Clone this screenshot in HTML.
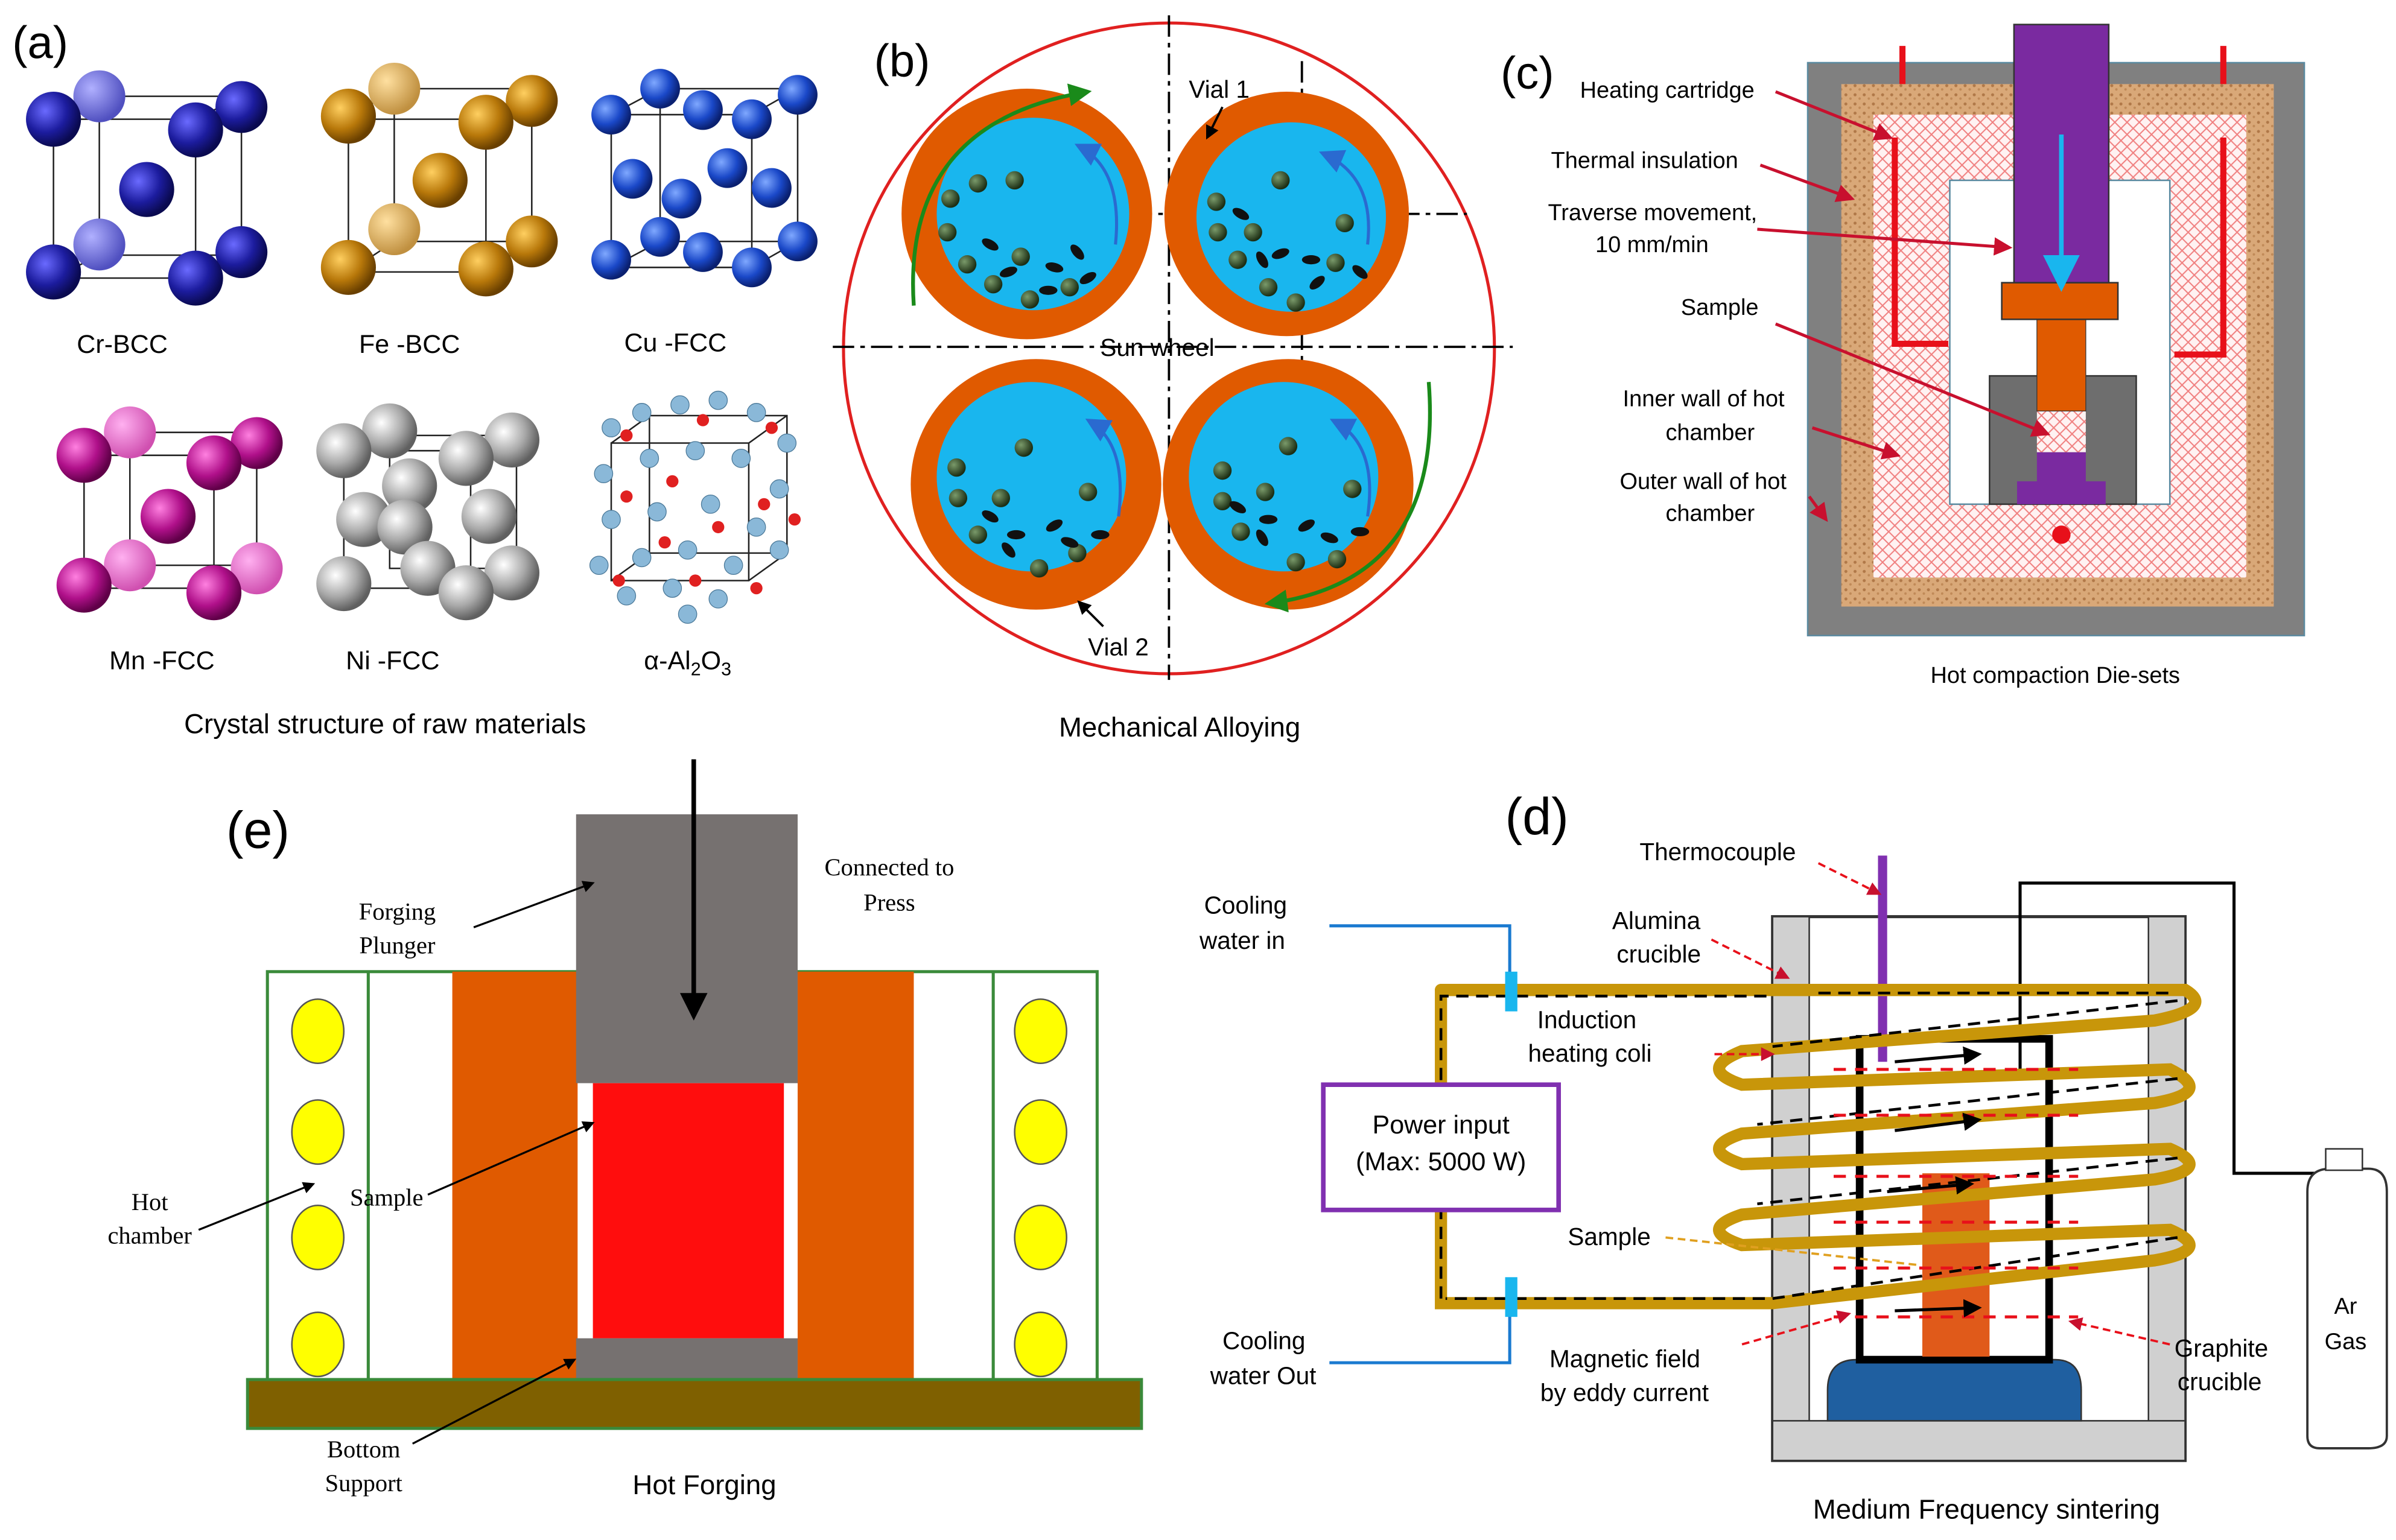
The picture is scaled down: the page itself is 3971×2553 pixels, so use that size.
<!DOCTYPE html>
<html><head><meta charset="utf-8"><style>
html,body{margin:0;padding:0;background:#fff;}
svg{display:block;}
text{font-family:"Liberation Sans",sans-serif;}
.s text{font-family:"Liberation Serif",serif;}
</style></head><body>
<svg width="3971" height="2553" viewBox="0 0 1568 1008" xmlns="http://www.w3.org/2000/svg">
<defs>
<radialGradient id="gb" cx="35%" cy="35%" r="65%"><stop offset="0" stop-color="#6a6aff"/><stop offset="0.6" stop-color="#1c1c9e"/><stop offset="1" stop-color="#0a0a50"/></radialGradient>
<radialGradient id="gbl" cx="35%" cy="35%" r="65%"><stop offset="0" stop-color="#b0b0ff"/><stop offset="1" stop-color="#5050c0"/></radialGradient>
<radialGradient id="go" cx="35%" cy="35%" r="65%"><stop offset="0" stop-color="#ffcf60"/><stop offset="0.6" stop-color="#b8780a"/><stop offset="1" stop-color="#6a4000"/></radialGradient>
<radialGradient id="gol" cx="35%" cy="35%" r="65%"><stop offset="0" stop-color="#ffe0a0"/><stop offset="1" stop-color="#c09040"/></radialGradient>
<radialGradient id="gc" cx="35%" cy="35%" r="65%"><stop offset="0" stop-color="#7fa8ff"/><stop offset="0.6" stop-color="#1a48c8"/><stop offset="1" stop-color="#0a2070"/></radialGradient>
<radialGradient id="gm" cx="35%" cy="35%" r="65%"><stop offset="0" stop-color="#ff80e0"/><stop offset="0.6" stop-color="#b0108a"/><stop offset="1" stop-color="#600048"/></radialGradient>
<radialGradient id="gml" cx="35%" cy="35%" r="65%"><stop offset="0" stop-color="#ffb0f0"/><stop offset="1" stop-color="#d050b0"/></radialGradient>
<radialGradient id="gn" cx="35%" cy="35%" r="65%"><stop offset="0" stop-color="#ffffff"/><stop offset="0.6" stop-color="#a8a8a8"/><stop offset="1" stop-color="#606060"/></radialGradient>
<radialGradient id="gg" cx="35%" cy="35%" r="65%"><stop offset="0" stop-color="#7a9a6a"/><stop offset="1" stop-color="#1c2e14"/></radialGradient>
<pattern id="hatch" width="8" height="8" patternUnits="userSpaceOnUse"><rect width="8" height="8" fill="#fff2f2"/><path d="M0 0L8 8M8 0L0 8" stroke="#f08080" stroke-width="0.8"/></pattern>
<pattern id="cork" width="6" height="6" patternUnits="userSpaceOnUse"><rect width="6" height="6" fill="#d9a878"/><circle cx="2" cy="2" r="1" fill="#b07848"/><circle cx="5" cy="4.5" r="0.8" fill="#c08a58"/></pattern>
<marker id="ah" markerWidth="8" markerHeight="8" refX="7" refY="4" orient="auto" markerUnits="strokeWidth"><path d="M0 0L8 4L0 8z" fill="context-stroke"/></marker>
<marker id="ak" markerWidth="6" markerHeight="6" refX="5" refY="3" orient="auto"><path d="M0 0L6 3L0 6z" fill="#000"/></marker>
<marker id="ar" markerWidth="6" markerHeight="6" refX="5" refY="3" orient="auto"><path d="M0 0L6 3L0 6z" fill="#c8102e"/></marker>
<marker id="ag" markerWidth="6" markerHeight="6" refX="5" refY="3" orient="auto"><path d="M0 0L6 3L0 6z" fill="#1a8a1a"/></marker>
</defs>
<rect width="1568" height="1008" fill="#fff"/>

<!-- (a) -->
<text x="8" y="38" font-size="30">(a)</text>
<g stroke="#222" stroke-width="1" fill="none">
<path d="M35 78H128V182H35Z M65 63H158V167H65Z M35 78L65 63 M128 78L158 63 M128 182L158 167 M35 182L65 167"/>
<path d="M228 78H318V178H228Z M258 58H348V158H258Z M228 78L258 58 M318 78L348 58 M318 178L348 158 M228 178L258 158"/>
<path d="M400 75H492V175H400Z M432 58H522V158H432Z M400 75L432 58 M492 75L522 58 M492 175L522 158 M400 175L432 158"/>
<path d="M55 298H140V385H55Z M85 283H168V370H85Z M55 298L85 283 M140 298L168 283 M140 385L168 370 M55 385L85 370"/>
<path d="M225 295H308V385H225Z M255 285H338V372H255Z"/>
<path d="M400 290H490V380H400Z M425 272H515V362H425Z M400 290L425 272 M490 290L515 272 M490 380L515 362 M400 380L425 362"/>
</g>
<g>
<circle cx="65" cy="63" r="17" fill="url(#gbl)"/><circle cx="158" cy="70" r="17" fill="url(#gb)"/><circle cx="65" cy="160" r="17" fill="url(#gbl)"/><circle cx="158" cy="165" r="17" fill="url(#gb)"/>
<circle cx="35" cy="78" r="18" fill="url(#gb)"/><circle cx="128" cy="85" r="18" fill="url(#gb)"/><circle cx="96" cy="124" r="18" fill="url(#gb)"/><circle cx="35" cy="178" r="18" fill="url(#gb)"/><circle cx="128" cy="182" r="18" fill="url(#gb)"/>
<circle cx="258" cy="58" r="17" fill="url(#gol)"/><circle cx="348" cy="66" r="17" fill="url(#go)"/><circle cx="258" cy="150" r="17" fill="url(#gol)"/><circle cx="348" cy="158" r="17" fill="url(#go)"/>
<circle cx="228" cy="76" r="18" fill="url(#go)"/><circle cx="318" cy="80" r="18" fill="url(#go)"/><circle cx="288" cy="118" r="18" fill="url(#go)"/><circle cx="228" cy="175" r="18" fill="url(#go)"/><circle cx="318" cy="176" r="18" fill="url(#go)"/>
<circle cx="432" cy="58" r="13" fill="url(#gc)"/><circle cx="522" cy="62" r="13" fill="url(#gc)"/><circle cx="432" cy="155" r="13" fill="url(#gc)"/><circle cx="522" cy="158" r="13" fill="url(#gc)"/>
<circle cx="400" cy="75" r="13" fill="url(#gc)"/><circle cx="460" cy="72" r="13" fill="url(#gc)"/><circle cx="492" cy="78" r="13" fill="url(#gc)"/><circle cx="414" cy="117" r="13" fill="url(#gc)"/><circle cx="476" cy="110" r="13" fill="url(#gc)"/><circle cx="505" cy="123" r="13" fill="url(#gc)"/><circle cx="446" cy="130" r="13" fill="url(#gc)"/><circle cx="400" cy="170" r="13" fill="url(#gc)"/><circle cx="460" cy="165" r="13" fill="url(#gc)"/><circle cx="492" cy="175" r="13" fill="url(#gc)"/>
<circle cx="85" cy="283" r="17" fill="url(#gml)"/><circle cx="168" cy="290" r="17" fill="url(#gm)"/><circle cx="85" cy="370" r="17" fill="url(#gml)"/><circle cx="168" cy="372" r="17" fill="url(#gml)"/>
<circle cx="55" cy="298" r="18" fill="url(#gm)"/><circle cx="140" cy="303" r="18" fill="url(#gm)"/><circle cx="110" cy="338" r="18" fill="url(#gm)"/><circle cx="55" cy="383" r="18" fill="url(#gm)"/><circle cx="140" cy="388" r="18" fill="url(#gm)"/>
<circle cx="255" cy="282" r="18" fill="url(#gn)"/><circle cx="335" cy="288" r="18" fill="url(#gn)"/><circle cx="225" cy="295" r="18" fill="url(#gn)"/><circle cx="305" cy="300" r="18" fill="url(#gn)"/><circle cx="268" cy="318" r="18" fill="url(#gn)"/><circle cx="238" cy="340" r="18" fill="url(#gn)"/><circle cx="320" cy="338" r="18" fill="url(#gn)"/><circle cx="265" cy="345" r="18" fill="url(#gn)"/><circle cx="280" cy="372" r="18" fill="url(#gn)"/><circle cx="225" cy="382" r="18" fill="url(#gn)"/><circle cx="335" cy="375" r="18" fill="url(#gn)"/><circle cx="305" cy="388" r="18" fill="url(#gn)"/>
</g>
<g fill="#8ab8d8" stroke="#4a7898" stroke-width="0.5">
<circle cx="400" cy="280" r="6"/><circle cx="420" cy="270" r="6"/><circle cx="445" cy="265" r="6"/><circle cx="470" cy="262" r="6"/><circle cx="495" cy="270" r="6"/><circle cx="515" cy="290" r="6"/><circle cx="395" cy="310" r="6"/><circle cx="425" cy="300" r="6"/><circle cx="455" cy="295" r="6"/><circle cx="485" cy="300" r="6"/><circle cx="510" cy="320" r="6"/><circle cx="400" cy="340" r="6"/><circle cx="430" cy="335" r="6"/><circle cx="465" cy="330" r="6"/><circle cx="495" cy="345" r="6"/><circle cx="392" cy="370" r="6"/><circle cx="420" cy="365" r="6"/><circle cx="450" cy="360" r="6"/><circle cx="480" cy="370" r="6"/><circle cx="510" cy="360" r="6"/><circle cx="410" cy="390" r="6"/><circle cx="440" cy="385" r="6"/><circle cx="470" cy="392" r="6"/><circle cx="450" cy="402" r="6"/>
</g>
<g fill="#e02020"><circle cx="410" cy="285" r="4"/><circle cx="460" cy="275" r="4"/><circle cx="505" cy="280" r="4"/><circle cx="440" cy="315" r="4"/><circle cx="500" cy="330" r="4"/><circle cx="410" cy="325" r="4"/><circle cx="470" cy="345" r="4"/><circle cx="435" cy="355" r="4"/><circle cx="405" cy="380" r="4"/><circle cx="495" cy="385" r="4"/><circle cx="455" cy="380" r="4"/><circle cx="520" cy="340" r="4"/></g>
<g font-size="17" text-anchor="middle"><text x="80" y="231">Cr-BCC</text><text x="268" y="231">Fe -BCC</text><text x="442" y="230">Cu -FCC</text><text x="106" y="438">Mn -FCC</text><text x="257" y="438">Ni -FCC</text><text x="450" y="438">α-Al<tspan font-size="12" dy="4">2</tspan><tspan dy="-4">O</tspan><tspan font-size="12" dy="4">3</tspan></text></g>
<text x="252" y="480" font-size="18" text-anchor="middle">Crystal structure of raw materials</text>

<!-- (b) -->
<text x="572" y="50" font-size="30">(b)</text>
<circle cx="765" cy="228" r="213" fill="none" stroke="#e02020" stroke-width="2"/>
<g stroke="#000" stroke-width="1.5" stroke-dasharray="14 4 3 4"><path d="M765 10V445"/><path d="M545 227H990"/><path d="M852 40V240"/><path d="M740 140H960"/></g>
<g>
<circle cx="672" cy="140" r="82" fill="#e05a00"/><circle cx="676" cy="140" r="63" fill="#19b6ee"/>
<circle cx="842" cy="140" r="80" fill="#e05a00"/><circle cx="845" cy="142" r="62" fill="#19b6ee"/>
<circle cx="678" cy="317" r="82" fill="#e05a00"/><circle cx="675" cy="312" r="62" fill="#19b6ee"/>
<circle cx="843" cy="317" r="82" fill="#e05a00"/><circle cx="840" cy="312" r="62" fill="#19b6ee"/>
</g>
<g fill="url(#gg)">
<circle cx="622" cy="130" r="6"/><circle cx="640" cy="120" r="6"/><circle cx="664" cy="118" r="6"/><circle cx="620" cy="152" r="6"/><circle cx="633" cy="173" r="6"/><circle cx="650" cy="186" r="6"/><circle cx="668" cy="168" r="6"/><circle cx="674" cy="196" r="6"/><circle cx="700" cy="188" r="6"/>
<circle cx="796" cy="132" r="6"/><circle cx="838" cy="118" r="6"/><circle cx="797" cy="152" r="6"/><circle cx="820" cy="152" r="6"/><circle cx="810" cy="170" r="6"/><circle cx="830" cy="188" r="6"/><circle cx="848" cy="198" r="6"/><circle cx="880" cy="146" r="6"/><circle cx="874" cy="172" r="6"/>
<circle cx="626" cy="306" r="6"/><circle cx="670" cy="293" r="6"/><circle cx="627" cy="326" r="6"/><circle cx="655" cy="326" r="6"/><circle cx="640" cy="350" r="6"/><circle cx="712" cy="322" r="6"/><circle cx="680" cy="372" r="6"/><circle cx="705" cy="362" r="6"/>
<circle cx="800" cy="308" r="6"/><circle cx="843" cy="292" r="6"/><circle cx="800" cy="328" r="6"/><circle cx="828" cy="322" r="6"/><circle cx="812" cy="348" r="6"/><circle cx="885" cy="320" r="6"/><circle cx="848" cy="368" r="6"/><circle cx="875" cy="366" r="6"/>
</g>
<g fill="#111">
<ellipse cx="648" cy="160" rx="6" ry="3" transform="rotate(30 648 160)"/><ellipse cx="660" cy="178" rx="6" ry="3" transform="rotate(-20 660 178)"/><ellipse cx="690" cy="175" rx="6" ry="3" transform="rotate(15 690 175)"/><ellipse cx="705" cy="165" rx="6" ry="3" transform="rotate(50 705 165)"/><ellipse cx="686" cy="190" rx="6" ry="3"/><ellipse cx="712" cy="182" rx="6" ry="3" transform="rotate(-30 712 182)"/>
<ellipse cx="812" cy="140" rx="6" ry="3" transform="rotate(30 812 140)"/><ellipse cx="838" cy="166" rx="6" ry="3" transform="rotate(-20 838 166)"/><ellipse cx="858" cy="170" rx="6" ry="3"/><ellipse cx="890" cy="178" rx="6" ry="3" transform="rotate(40 890 178)"/><ellipse cx="862" cy="185" rx="6" ry="3" transform="rotate(-40 862 185)"/><ellipse cx="826" cy="170" rx="6" ry="3" transform="rotate(60 826 170)"/>
<ellipse cx="648" cy="338" rx="6" ry="3" transform="rotate(30 648 338)"/><ellipse cx="665" cy="350" rx="6" ry="3"/><ellipse cx="690" cy="344" rx="6" ry="3" transform="rotate(-30 690 344)"/><ellipse cx="700" cy="355" rx="6" ry="3" transform="rotate(20 700 355)"/><ellipse cx="660" cy="360" rx="6" ry="3" transform="rotate(50 660 360)"/><ellipse cx="720" cy="350" rx="6" ry="3"/>
<ellipse cx="810" cy="332" rx="6" ry="3" transform="rotate(30 810 332)"/><ellipse cx="830" cy="340" rx="6" ry="3"/><ellipse cx="855" cy="344" rx="6" ry="3" transform="rotate(-30 855 344)"/><ellipse cx="870" cy="352" rx="6" ry="3" transform="rotate(20 870 352)"/><ellipse cx="890" cy="348" rx="6" ry="3"/><ellipse cx="826" cy="352" rx="6" ry="3" transform="rotate(60 826 352)"/>
</g>
<g fill="none" stroke="#2a6ad0" stroke-width="2" marker-end="url(#ah)">
<path d="M730 160Q735 110 705 95"/><path d="M895 160Q900 115 865 100"/><path d="M732 338Q738 290 712 275"/><path d="M895 338Q902 290 872 275"/>
</g>
<g fill="none" stroke="#1a8a1a" stroke-width="2.5"><path d="M598 200Q590 80 712 60" marker-end="url(#ag)"/><path d="M935 250Q945 380 830 395" marker-end="url(#ag)"/></g>
<g font-size="16"><text x="778" y="64">Vial 1</text><text x="720" y="233">Sun wheel</text><text x="712" y="429">Vial 2</text></g>
<path d="M800 70L790 90" stroke="#000" stroke-width="1.5" marker-end="url(#ak)"/>
<path d="M722 410L706 394" stroke="#000" stroke-width="1.5" marker-end="url(#ak)"/>
<text x="772" y="482" font-size="18" text-anchor="middle">Mechanical Alloying</text>

<!-- (c) -->
<text x="982" y="58" font-size="30">(c)</text>
<rect x="1183" y="41" width="325" height="375" fill="#808080" stroke="#5a8aa0" stroke-width="1"/>
<rect x="1205" y="55" width="283" height="342" fill="url(#cork)"/>
<rect x="1226" y="75" width="244" height="303" fill="url(#hatch)"/>
<rect x="1276" y="118" width="144" height="212" fill="#fff" stroke="#5a8aa0"/>
<rect x="1302" y="246" width="96" height="84" fill="#6e6e6e" stroke="#333"/>
<rect x="1333" y="268" width="32" height="28" fill="url(#hatch)"/>
<path d="M1320 330V315H1333V296H1365V315H1378V330Z" fill="#7a2aa0"/>
<rect x="1333" y="209" width="32" height="60" fill="#e05a00" stroke="#333" stroke-width="0.5"/>
<rect x="1310" y="185" width="76" height="24" fill="#e05a00" stroke="#333"/>
<rect x="1318" y="16" width="62" height="169" fill="#7a2aa0" stroke="#333"/>
<path d="M1349 88V188" stroke="#19b6ee" stroke-width="3" marker-end="url(#ah)"/>
<g fill="none" stroke="#e8101a" stroke-width="4">
<path d="M1245 30V55"/><path d="M1240 90V225H1275"/><path d="M1455 30V55"/><path d="M1455 90V232H1423"/>
</g>
<circle cx="1349" cy="350" r="6" fill="#e8101a"/>
<g font-size="15"><text x="1034" y="64">Heating cartridge</text><text x="1015" y="110">Thermal insulation</text><text x="1013" y="144">Traverse movement,</text><text x="1044" y="165">10 mm/min</text><text x="1100" y="206">Sample</text><text x="1062" y="266">Inner wall of hot</text><text x="1090" y="288">chamber</text><text x="1060" y="320">Outer wall of hot</text><text x="1090" y="341">chamber</text></g>
<g stroke="#c8102e" stroke-width="2" fill="none">
<path d="M1162 60L1237 90" marker-end="url(#ar)"/><path d="M1152 108L1212 130" marker-end="url(#ar)"/><path d="M1150 150L1315 162" marker-end="url(#ar)"/><path d="M1162 212L1340 284" marker-end="url(#ar)"/><path d="M1186 280L1242 298" marker-end="url(#ar)"/><path d="M1184 325L1195 340" marker-end="url(#ar)"/>
</g>
<text x="1345" y="447" font-size="15" text-anchor="middle">Hot compaction Die-sets</text>

<!-- (e) -->
<text x="148" y="555" font-size="34">(e)</text>
<rect x="175" y="636" width="543" height="268" fill="#fff" stroke="#3a8a3a" stroke-width="2"/>
<path d="M241 636V904M650 636V904" stroke="#3a8a3a" stroke-width="2"/>
<rect x="296" y="636" width="82" height="268" fill="#e05a00"/>
<rect x="522" y="636" width="76" height="268" fill="#e05a00"/>
<rect x="377" y="533" width="145" height="176" fill="#767170"/>
<rect x="388" y="709" width="125" height="167" fill="#ff0d0d"/>
<rect x="377" y="876" width="145" height="28" fill="#767170"/>
<rect x="162" y="903" width="585" height="32" fill="#7f6000" stroke="#3a8a3a" stroke-width="2"/>
<g fill="#ffff00" stroke="#555"><ellipse cx="208" cy="675" rx="17" ry="21"/><ellipse cx="208" cy="741" rx="17" ry="21"/><ellipse cx="208" cy="810" rx="17" ry="21"/><ellipse cx="208" cy="880" rx="17" ry="21"/><ellipse cx="681" cy="675" rx="17" ry="21"/><ellipse cx="681" cy="741" rx="17" ry="21"/><ellipse cx="681" cy="810" rx="17" ry="21"/><ellipse cx="681" cy="880" rx="17" ry="21"/></g>
<path d="M454 497V665" stroke="#000" stroke-width="3" marker-end="url(#ak)"/>
<g class="s" font-size="16" text-anchor="middle"><text x="260" y="602">Forging</text><text x="260" y="624">Plunger</text><text x="582" y="573">Connected to</text><text x="582" y="596">Press</text><text x="98" y="792">Hot</text><text x="98" y="814">chamber</text><text x="253" y="789">Sample</text><text x="238" y="954">Bottom</text><text x="238" y="976">Support</text></g>
<g stroke="#000" stroke-width="1.3"><path d="M310 607L388 578" marker-end="url(#ak)"/><path d="M130 805L205 775" marker-end="url(#ak)"/><path d="M280 782L388 735" marker-end="url(#ak)"/><path d="M270 945L376 890" marker-end="url(#ak)"/></g>
<text x="461" y="978" font-size="18" text-anchor="middle">Hot Forging</text>

<!-- (d) -->
<text x="985" y="546" font-size="34">(d)</text>
<rect x="1160" y="600" width="270" height="356" fill="#fff" stroke="#333" stroke-width="2"/>
<rect x="1160" y="600" width="24" height="356" fill="#d0d0d0" stroke="#333"/>
<rect x="1406" y="600" width="24" height="356" fill="#d0d0d0" stroke="#333"/>
<rect x="1160" y="930" width="270" height="26" fill="#d0d0d0" stroke="#333"/>
<path d="M1196 930V910Q1196 890 1215 890H1345Q1362 890 1362 910V930Z" fill="#1f5fa0" stroke="#333"/>
<rect x="1217" y="680" width="124" height="210" fill="none" stroke="#000" stroke-width="5"/>
<rect x="1258" y="768" width="44" height="120" fill="#e05a1a"/>
<path d="M1232 560V695" stroke="#8030b0" stroke-width="6"/>
<path d="M1322 700V578H1462V768H1520" fill="none" stroke="#000" stroke-width="2"/>
<g fill="none" stroke="#c8960a" stroke-width="8" stroke-linecap="round">
<path d="M943 648H1160"/><path d="M943 648V853H1160"/>
<path d="M1160 648H1430Q1450 660 1410 668L1140 688Q1110 700 1140 710L1420 700Q1450 715 1410 722L1140 742Q1110 752 1140 762L1420 752Q1450 765 1410 772L1140 795Q1110 805 1140 815L1420 805Q1450 818 1410 825L1160 853"/>
</g>
<g fill="none" stroke="#000" stroke-width="1.8" stroke-dasharray="8 5">
<path d="M943 850V652H1160"/><path d="M1190 650H1420"/><path d="M1425 655L1160 685"/><path d="M1425 706L1150 736"/><path d="M1425 758L1150 788"/><path d="M1425 810L1160 850H946"/>
</g>
<g fill="none" stroke="#e8101a" stroke-width="2" stroke-dasharray="8 6"><path d="M1200 700H1360"/><path d="M1200 730H1360"/><path d="M1200 770H1360"/><path d="M1200 800H1360"/><path d="M1200 830H1360"/><path d="M1200 862H1360"/></g>
<g stroke="#000" stroke-width="2"><path d="M1240 695L1295 690" marker-end="url(#ak)"/><path d="M1240 740L1295 733" marker-end="url(#ak)"/><path d="M1235 780L1290 775" marker-end="url(#ak)"/><path d="M1240 858L1295 856" marker-end="url(#ak)"/></g>
<g fill="none" stroke="#1a7ad0" stroke-width="2"><path d="M870 606H988V640"/><path d="M870 892H988V860"/></g>
<rect x="985" y="636" width="8" height="26" fill="#19b6ee"/><rect x="985" y="836" width="8" height="26" fill="#19b6ee"/>
<rect x="866" y="710" width="154" height="82" fill="#fff" stroke="#8030b0" stroke-width="3"/>
<text x="943" y="742" font-size="17" text-anchor="middle">Power input</text><text x="943" y="766" font-size="17" text-anchor="middle">(Max: 5000 W)</text>
<path d="M1510 780Q1510 765 1525 765H1550Q1562 765 1562 780V940Q1562 948 1550 948H1518Q1510 948 1510 940Z" fill="#fff" stroke="#333" stroke-width="1.5"/>
<rect x="1522" y="752" width="24" height="14" fill="#fff" stroke="#333"/>
<text x="1535" y="860" font-size="15" text-anchor="middle">Ar</text><text x="1535" y="883" font-size="15" text-anchor="middle">Gas</text>
<g font-size="16"><text x="1073" y="563">Thermocouple</text><text x="1055" y="608">Alumina</text><text x="1058" y="630">crucible</text><text x="1006" y="673">Induction</text><text x="1000" y="695">heating coli</text><text x="1026" y="815">Sample</text><text x="788" y="598">Cooling</text><text x="785" y="621">water in</text><text x="800" y="883">Cooling</text><text x="792" y="906">water Out</text><text x="1014" y="895">Magnetic field</text><text x="1008" y="917">by eddy current</text><text x="1423" y="888">Graphite</text><text x="1425" y="910">crucible</text></g>
<g fill="none" stroke="#e8101a" stroke-width="1.5" stroke-dasharray="5 3"><path d="M1190 565L1230 585" marker-end="url(#ar)"/><path d="M1120 615L1170 640" marker-end="url(#ar)"/><path d="M1122 690L1160 690" marker-end="url(#ar)"/><path d="M1140 880L1210 860" marker-end="url(#ar)"/><path d="M1420 880L1355 865" marker-end="url(#ar)"/></g>
<path d="M1090 810L1255 828" stroke="#e0a020" stroke-width="1.5" stroke-dasharray="5 3" fill="none"/>
<text x="1300" y="994" font-size="18" text-anchor="middle">Medium Frequency sintering</text>
</svg>
</body></html>
